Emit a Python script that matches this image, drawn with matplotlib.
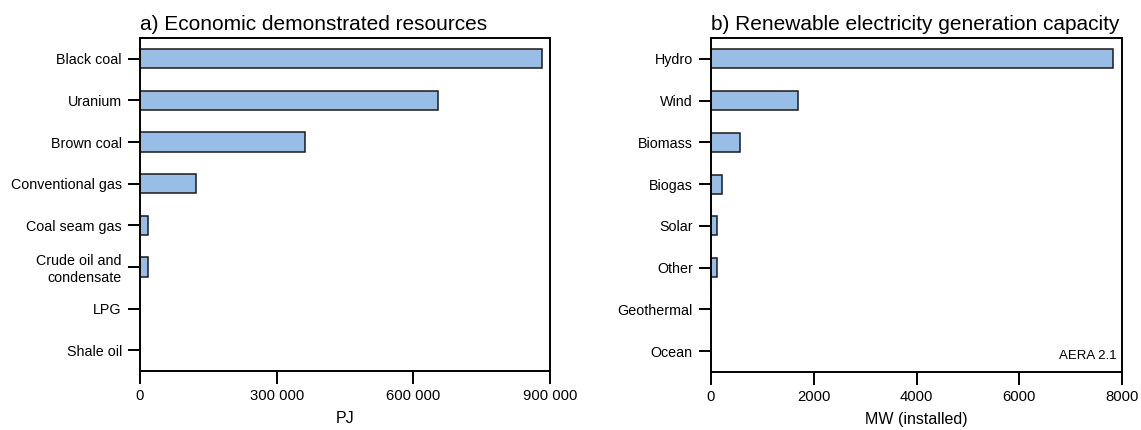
import numpy as np
import matplotlib
matplotlib.use("Agg")
import matplotlib.pyplot as plt

# a) economic demonstrated resources (PJ)
res_cats = ["Black coal", "Uranium", "Brown coal", "Conventional gas",
            "Coal seam gas", "Crude oil and\ncondensate", "LPG", "Shale oil"]
res_vals = [882000, 654000, 363000, 123000, 18000, 18000, 0, 0]
res_ticks = [0, 300000, 600000, 900000]
res_ticklabels = ["0", "300 000", "600 000", "900 000"]

# b) renewable electricity generation capacity (MW installed)
ren_cats = ["Hydro", "Wind", "Biomass", "Biogas", "Solar", "Other",
            "Geothermal", "Ocean"]
ren_vals = [7820, 1700, 558, 222, 120, 120, 1, 0]
ren_ticks = [0, 2000, 4000, 6000, 8000]
ren_ticklabels = ["0", "2000", "4000", "6000", "8000"]

BAR = "#98bde6"
EDGE = "#1a1a1a"
FONT = ["Liberation Sans Narrow", "Liberation Sans", "DejaVu Sans"]
REG = ["Liberation Sans", "DejaVu Sans"]

fig = plt.figure(figsize=(11.41, 4.30), dpi=100)
W, H = 1141, 430
ax1 = fig.add_axes([140 / W, 1 - 371 / H, 410 / W, 333 / H])
ax2 = fig.add_axes([711 / W, 1 - 372 / H, 411 / W, 334 / H])


def panel(ax, cats, vals, ticks, ticklabels, xmax, title, xlabel):
    y = np.arange(len(cats))
    ax.barh(y, vals, height=0.46, color=BAR, edgecolor=EDGE, linewidth=1.1)
    ax.set_ylim(len(cats) - 0.5, -0.5)
    ax.set_xlim(0, xmax)
    ax.set_yticks(y)
    ax.set_yticklabels(cats, family=FONT, fontsize=10.3)
    ax.set_xticks(ticks)
    ax.set_xticklabels(ticklabels, family=FONT, fontsize=10.7)
    ax.tick_params(length=9, width=1.4, pad=4)
    for s in ax.spines.values():
        s.set_linewidth(1.4)
    ax.set_title(title, loc="left", family=REG, fontsize=15, pad=6)
    ax.set_xlabel(xlabel, family=FONT, fontsize=11.5, labelpad=6)


panel(ax1, res_cats, res_vals, res_ticks, res_ticklabels, 900000,
      "a) Economic demonstrated resources", "PJ")
panel(ax2, ren_cats, ren_vals, ren_ticks, ren_ticklabels, 8000,
      "b) Renewable electricity generation capacity", "MW (installed)")
ax2.text(0.988, 0.03, "AERA 2.1", transform=ax2.transAxes, ha="right",
         va="bottom", family=REG, fontsize=9.5)

fig.savefig("out.png", dpi=100)
